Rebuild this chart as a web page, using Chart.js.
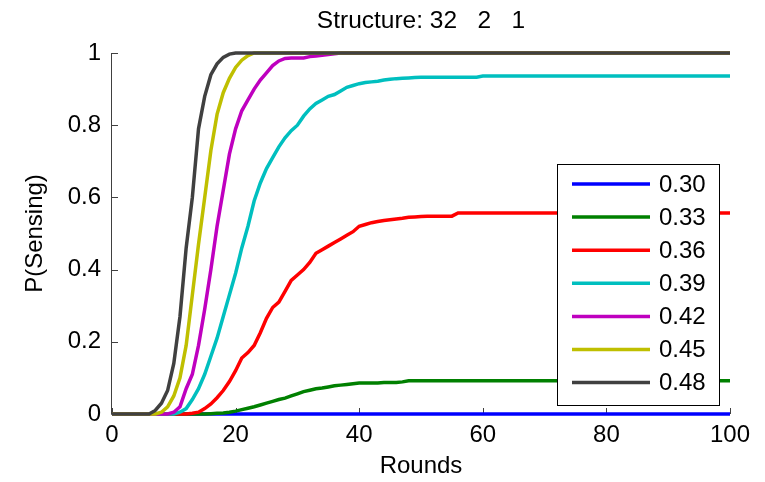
<!DOCTYPE html>
<html>
<head>
<meta charset="utf-8">
<script src="https://cdn.jsdelivr.net/npm/chart.js@4"></script>
<style>
  html, body { margin: 0; padding: 0; background: #fff; }
  canvas { display: block; }
</style>
</head>
<body>
<canvas id="c" width="765" height="482"></canvas>
<script>
// Sensing probability per round, one curve per threshold
const rounds = [
  0,1,2,3,4,5,6,7,8,9,
  10,11,12,13,14,15,16,17,18,19,
  20,21,22,23,24,25,26,27,28,29,
  30,31,32,33,34,35,36,37,38,39,
  40,41,42,43,44,45,46,47,48,49,
  50,51,52,53,54,55,56,57,58,59,
  60,61,62,63,64,65,66,67,68,69,
  70,71,72,73,74,75,76,77,78,79,
  80,81,82,83,84,85,86,87,88,89,
  90,91,92,93,94,95,96,97,98,99,
  100
];

const thresholds = ["0.30", "0.33", "0.36", "0.39", "0.42", "0.45", "0.48"];
const seriesColors = ["#0000FF", "#008000", "#FF0000", "#00BFBF", "#BF00BF", "#BFBF00", "#404040"];

const p030 = [
  0,0,0,0,0,0,0,0,0,0,
  0,0,0,0,0,0,0,0,0,0,
  0,0,0,0,0,0,0,0,0,0,
  0,0,0,0,0,0,0,0,0,0,
  0,0,0,0,0,0,0,0,0,0,
  0,0,0,0,0,0,0,0,0,0,
  0,0,0,0,0,0,0,0,0,0,
  0,0,0,0,0,0,0,0,0,0,
  0,0,0,0,0,0,0,0,0,0,
  0,0,0,0,0,0,0,0,0,0,
  0
];
const p033 = [
  0,0,0,0,0,0,0,0,0,0,
  0,0,0,0,0,0,0.001,0.002,0.003,0.005,
  0.008,0.012,0.016,0.02,0.025,0.03,0.035,0.04,0.044,0.05,
  0.056,0.062,0.066,0.07,0.072,0.075,0.078,0.08,0.082,0.084,
  0.086,0.086,0.086,0.086,0.087,0.087,0.087,0.089,0.092,0.092,
  0.092,0.092,0.092,0.092,0.092,0.092,0.092,0.092,0.092,0.092,
  0.092,0.092,0.092,0.092,0.092,0.092,0.092,0.092,0.092,0.092,
  0.092,0.092,0.092,0.092,0.092,0.092,0.092,0.092,0.092,0.092,
  0.092,0.092,0.092,0.092,0.092,0.092,0.092,0.092,0.092,0.092,
  0.092,0.092,0.092,0.092,0.092,0.092,0.092,0.092,0.092,0.092,
  0.092
];
const p036 = [
  0,0,0,0,0,0,0,0,0,0,
  0,0,0,0.002,0.005,0.015,0.028,0.045,0.065,0.09,
  0.12,0.155,0.17,0.19,0.225,0.265,0.295,0.31,0.34,0.37,
  0.385,0.4,0.42,0.445,0.455,0.465,0.475,0.485,0.495,0.505,
  0.52,0.525,0.53,0.533,0.536,0.538,0.54,0.542,0.545,0.546,
  0.547,0.548,0.548,0.548,0.548,0.548,0.557,0.557,0.557,0.557,
  0.557,0.557,0.557,0.557,0.557,0.557,0.557,0.557,0.557,0.557,
  0.557,0.557,0.557,0.557,0.557,0.557,0.557,0.557,0.557,0.557,
  0.557,0.557,0.557,0.557,0.557,0.557,0.557,0.557,0.557,0.557,
  0.557,0.557,0.557,0.557,0.557,0.557,0.557,0.557,0.557,0.557,
  0.557
];
const p039 = [
  0,0,0,0,0,0,0,0,0,0,
  0,0.005,0.015,0.04,0.07,0.11,0.16,0.21,0.27,0.33,
  0.39,0.46,0.52,0.59,0.64,0.68,0.71,0.74,0.765,0.785,
  0.8,0.825,0.845,0.86,0.87,0.88,0.885,0.895,0.905,0.91,
  0.915,0.918,0.92,0.922,0.925,0.927,0.929,0.93,0.931,0.932,
  0.933,0.933,0.933,0.933,0.933,0.933,0.933,0.933,0.933,0.933,
  0.936,0.936,0.936,0.936,0.936,0.936,0.936,0.936,0.936,0.936,
  0.936,0.936,0.936,0.936,0.936,0.936,0.936,0.936,0.936,0.936,
  0.936,0.936,0.936,0.936,0.936,0.936,0.936,0.936,0.936,0.936,
  0.936,0.936,0.936,0.936,0.936,0.936,0.936,0.936,0.936,0.936,
  0.936
];
const p042 = [
  0,0,0,0,0,0,0,0,0,0,
  0.005,0.02,0.07,0.11,0.19,0.29,0.4,0.52,0.62,0.72,
  0.79,0.84,0.87,0.9,0.925,0.945,0.965,0.978,0.985,0.986,
  0.986,0.986,0.99,0.992,0.994,0.996,0.998,1,1,1,
  1,1,1,1,1,1,1,1,1,1,
  1,1,1,1,1,1,1,1,1,1,
  1,1,1,1,1,1,1,1,1,1,
  1,1,1,1,1,1,1,1,1,1,
  1,1,1,1,1,1,1,1,1,1,
  1,1,1,1,1,1,1,1,1,1,
  1
];
const p045 = [
  0,0,0,0,0,0,0,0,0.005,0.02,
  0.05,0.1,0.19,0.33,0.47,0.6,0.73,0.83,0.89,0.93,
  0.96,0.98,0.993,1,1,1,1,1,1,1,
  1,1,1,1,1,1,1,1,1,1,
  1,1,1,1,1,1,1,1,1,1,
  1,1,1,1,1,1,1,1,1,1,
  1,1,1,1,1,1,1,1,1,1,
  1,1,1,1,1,1,1,1,1,1,
  1,1,1,1,1,1,1,1,1,1,
  1,1,1,1,1,1,1,1,1,1,
  1
];
const p048 = [
  0,0,0,0,0,0,0,0.01,0.03,0.065,
  0.14,0.27,0.46,0.6,0.79,0.88,0.94,0.97,0.988,0.997,
  1,1,1,1,1,1,1,1,1,1,
  1,1,1,1,1,1,1,1,1,1,
  1,1,1,1,1,1,1,1,1,1,
  1,1,1,1,1,1,1,1,1,1,
  1,1,1,1,1,1,1,1,1,1,
  1,1,1,1,1,1,1,1,1,1,
  1,1,1,1,1,1,1,1,1,1,
  1,1,1,1,1,1,1,1,1,1,
  1
];

const xTicks = [0, 20, 40, 60, 80, 100];
const yTicks = [0, 0.2, 0.4, 0.6, 0.8, 1];
const yTickLabels = ["0", "0.2", "0.4", "0.6", "0.8", "1"];

const allSeries = [p030, p033, p036, p039, p042, p045, p048];
const FONT = "'Liberation Sans', Arial, Helvetica, sans-serif";

const datasets = allSeries.map((vals, i) => ({
  label: thresholds[i],
  data: rounds.map((r, k) => ({ x: r, y: vals[k] })),
  borderColor: seriesColors[i],
  backgroundColor: seriesColors[i],
  borderWidth: 3.5,
  pointRadius: 0,
  tension: 0,
  fill: false,
  clip: false,
  order: allSeries.length - i   // later thresholds painted on top
}));

// Axis lines with inward tick marks
const axisPlugin = {
  id: 'axisLines',
  beforeDatasetsDraw(chart) {
    const { ctx, chartArea: { left, right, top, bottom }, scales: { x, y } } = chart;
    ctx.save();
    ctx.strokeStyle = '#404040';
    ctx.lineWidth = 1;
    ctx.beginPath();
    ctx.moveTo(left - 0.5, top);
    ctx.lineTo(left - 0.5, bottom + 0.5);
    ctx.lineTo(right, bottom + 0.5);
    yTicks.forEach(v => {
      const py = Math.round(y.getPixelForValue(v)) + 0.5;
      ctx.moveTo(left, py);
      ctx.lineTo(left + 6, py);
    });
    xTicks.forEach(v => {
      const px = Math.round(x.getPixelForValue(v)) + 0.5;
      ctx.moveTo(px, bottom);
      ctx.lineTo(px, bottom - 6);
    });
    ctx.stroke();
    ctx.restore();
  }
};

// Boxed legend inside the plot, lower right
const legendPlugin = {
  id: 'boxLegend',
  afterDraw(chart) {
    const { ctx } = chart;
    const bx = 557, by = 164, bw = 162, bh = 241;
    ctx.save();
    ctx.fillStyle = '#ffffff';
    ctx.fillRect(bx, by, bw, bh);
    ctx.strokeStyle = '#000000';
    ctx.lineWidth = 1;
    ctx.strokeRect(bx + 0.5, by + 0.5, bw, bh);
    ctx.font = '24px ' + FONT;
    ctx.textBaseline = 'middle';
    ctx.textAlign = 'left';
    chart.data.datasets.forEach((ds, i) => {
      const ry = by + 20 + i * 33.1;
      ctx.strokeStyle = ds.borderColor;
      ctx.lineWidth = 3.5;
      ctx.beginPath();
      ctx.moveTo(572, ry);
      ctx.lineTo(650, ry);
      ctx.stroke();
      ctx.fillStyle = '#000000';
      ctx.fillText(ds.label, 659, ry + 1);
    });
    ctx.restore();
  }
};

new Chart(document.getElementById('c'), {
  type: 'line',
  data: { datasets },
  options: {
    responsive: false,
    devicePixelRatio: 1,
    animation: false,
    layout: { padding: { left: 0, right: 35, top: 0, bottom: 0 } },
    plugins: {
      legend: { display: false },
      tooltip: { enabled: false },
      title: {
        display: true,
        text: 'Structure: 32   2   1',
        fullSize: false,
        color: '#000',
        font: { family: FONT, size: 24.5, weight: 'normal', lineHeight: 1.2 },
        padding: { top: 7, bottom: 16.6 }
      }
    },
    scales: {
      x: {
        type: 'linear',
        min: 0,
        max: 100,
        afterBuildTicks(scale) { scale.ticks = xTicks.map(v => ({ value: v })); },
        afterFit(scale) { scale.height = 68; },
        grid: { display: false, drawTicks: false },
        border: { display: false },
        ticks: {
          color: '#000', padding: 7, maxRotation: 0,
          callback: (v) => String(v),
          font: { family: FONT, size: 24, lineHeight: 1.2 }
        },
        title: {
          display: true,
          text: 'Rounds',
          color: '#000',
          font: { family: FONT, size: 24, lineHeight: 1.2 },
          padding: { top: 0, bottom: 1.6 }
        }
      },
      y: {
        type: 'linear',
        min: 0,
        max: 1,
        afterBuildTicks(scale) { scale.ticks = yTicks.map(v => ({ value: v })); },
        afterFit(scale) { scale.width = 112; },
        grid: { display: false, drawTicks: false },
        border: { display: false },
        ticks: {
          color: '#000', padding: 11,
          callback: (v) => yTickLabels[yTicks.indexOf(v)] ?? String(v),
          font: { family: FONT, size: 24, lineHeight: 1.2 }
        },
        title: {
          display: true,
          text: 'P(Sensing)',
          color: '#000',
          font: { family: FONT, size: 24, lineHeight: 1.2 },
          padding: { top: 20.6, bottom: 0 }
        }
      }
    }
  },
  plugins: [axisPlugin, legendPlugin]
});
</script>
</body>
</html>
